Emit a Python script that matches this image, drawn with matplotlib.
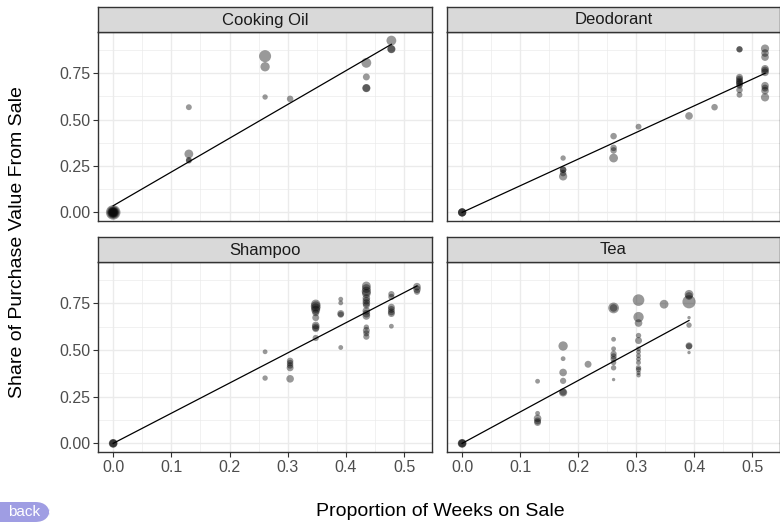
import numpy as np
import matplotlib
matplotlib.use("Agg")
import matplotlib.pyplot as plt
from matplotlib.ticker import MultipleLocator, FormatStrFormatter
from matplotlib.patches import FancyBboxPatch

plt.rcParams['font.family'] = ['Liberation Sans', 'DejaVu Sans']

products = ['Cooking Oil', 'Deodorant', 'Shampoo', 'Tea']

oil_x = [0, 0, 0, 0, 0, 0, 0.130, 0.130, 0.130, 0.130, 0.261, 0.261, 0.261, 0.304,
         0.435, 0.435, 0.435, 0.435, 0.478, 0.478, 0.478]
oil_y = [0, 0, 0, 0, 0, 0, 0.567, 0.315, 0.279, 0.283, 0.842, 0.785, 0.622, 0.612,
         0.806, 0.730, 0.670, 0.670, 0.926, 0.880, 0.880]
oil_s = [110, 80, 60, 50, 40, 30, 18, 40, 18, 18, 75, 45, 15, 22,
         50, 25, 35, 30, 50, 35, 30]

deo_x = [0, 0, 0, 0.174, 0.174, 0.174, 0.174, 0.174, 0.261, 0.261, 0.261, 0.261,
         0.304, 0.391, 0.435,
         0.478, 0.478, 0.478, 0.478, 0.478, 0.478, 0.478, 0.478, 0.478, 0.478,
         0.522, 0.522, 0.522, 0.522, 0.522, 0.522, 0.522, 0.522, 0.522, 0.522]
deo_y = [0, 0, 0, 0.293, 0.230, 0.230, 0.212, 0.194, 0.411, 0.348, 0.334, 0.293,
         0.462, 0.520, 0.567,
         0.879, 0.879, 0.728, 0.718, 0.708, 0.700, 0.692, 0.683, 0.660, 0.634,
         0.883, 0.859, 0.837, 0.774, 0.765, 0.755, 0.683, 0.670, 0.656, 0.620]
deo_s = [35, 35, 35, 15, 22, 22, 22, 35, 22, 22, 22, 40,
         18, 30, 22,
         20, 20, 25, 25, 25, 25, 25, 20, 22, 18,
         35, 30, 30, 30, 30, 30, 30, 25, 30, 35]

sha_x = [0, 0, 0, 0.261, 0.261, 0.304, 0.304, 0.304, 0.304, 0.304,
         0.348, 0.348, 0.348, 0.348, 0.348, 0.348, 0.348, 0.348, 0.348, 0.348,
         0.391, 0.391, 0.391, 0.391, 0.391,
         0.435, 0.435, 0.435, 0.435, 0.435, 0.435, 0.435, 0.435, 0.435, 0.435,
         0.435, 0.435, 0.435, 0.435, 0.435,
         0.478, 0.478, 0.478, 0.478, 0.478, 0.478, 0.478,
         0.522, 0.522, 0.522]
sha_y = [0, 0, 0, 0.491, 0.350, 0.442, 0.430, 0.418, 0.405, 0.346,
         0.746, 0.735, 0.725, 0.714, 0.700, 0.674, 0.632, 0.622, 0.615, 0.565,
         0.773, 0.753, 0.696, 0.690, 0.514,
         0.844, 0.830, 0.815, 0.804, 0.779, 0.765, 0.752, 0.741, 0.710, 0.695,
         0.683, 0.623, 0.605, 0.590, 0.572,
         0.800, 0.785, 0.730, 0.718, 0.705, 0.696, 0.628,
         0.840, 0.826, 0.813]
sha_s = [40, 35, 30, 12, 15, 22, 22, 22, 25, 30,
         45, 50, 45, 40, 25, 25, 30, 30, 25, 20,
         12, 12, 25, 20, 12,
         40, 40, 45, 40, 30, 30, 30, 25, 30, 30,
         30, 15, 25, 20, 20,
         20, 20, 25, 25, 25, 25, 12,
         30, 30, 20]

tea_x = [0, 0, 0, 0.130, 0.130, 0.130, 0.130, 0.130,
         0.174, 0.174, 0.174, 0.174, 0.174, 0.174, 0.217,
         0.261, 0.261, 0.261, 0.261, 0.261, 0.261, 0.261, 0.261, 0.261, 0.261,
         0.304, 0.304, 0.304, 0.304, 0.304, 0.304, 0.304, 0.304, 0.304, 0.304,
         0.304, 0.304, 0.304, 0.304,
         0.348, 0.391, 0.391, 0.391, 0.391, 0.391, 0.391, 0.391, 0.391]
tea_y = [0, 0, 0, 0.333, 0.161, 0.134, 0.120, 0.112,
         0.522, 0.454, 0.380, 0.335, 0.273, 0.275, 0.424,
         0.726, 0.726, 0.558, 0.507, 0.480, 0.466, 0.452, 0.433, 0.405, 0.342,
         0.768, 0.677, 0.645, 0.578, 0.551, 0.507, 0.490, 0.470, 0.452, 0.433,
         0.405, 0.395, 0.378, 0.365,
         0.746, 0.799, 0.790, 0.759, 0.674, 0.634, 0.523, 0.520, 0.487]
tea_s = [40, 35, 30, 12, 12, 30, 25, 25,
         45, 12, 30, 20, 35, 25, 25,
         60, 30, 12, 12, 20, 20, 20, 15, 15, 6,
         70, 55, 30, 15, 25, 12, 12, 12, 12, 12,
         15, 15, 10, 10,
         40, 40, 30, 90, 6, 15, 25, 20, 6]

# fitted line per product: intercept, slope
fit_intercept = [0.036, 0.0, 0.0, 0.0]
fit_slope = [1.82, 1.436, 1.617, 1.685]

xs = [oil_x, deo_x, sha_x, tea_x]
ys = [oil_y, deo_y, sha_y, tea_y]
ss = [oil_s, deo_s, sha_s, tea_s]

W, H = 780, 524
fig = plt.figure(figsize=(W / 100, H / 100), dpi=100)


def px_box(x0, y0, x1, y1):
    return [x0 / W, 1 - y1 / H, (x1 - x0) / W, (y1 - y0) / H]


cols = [(98, 432), (447, 780)]
rows = [(7, 32, 221), (237, 262, 452)]
grey20 = '#333333'

for i, name in enumerate(products):
    r, c = divmod(i, 2)
    x0, x1 = cols[c]
    st, pt, pb = rows[r]
    ax = fig.add_axes(px_box(x0, pt, x1, pb))
    sax = fig.add_axes(px_box(x0, st, x1, pt))

    ax.set_xlim(-0.0261, 0.5478)
    ax.set_ylim(-0.0463, 0.9723)
    ax.xaxis.set_major_locator(MultipleLocator(0.1))
    ax.xaxis.set_minor_locator(MultipleLocator(0.05))
    ax.yaxis.set_major_locator(MultipleLocator(0.25))
    ax.yaxis.set_minor_locator(MultipleLocator(0.125))
    ax.grid(which='major', color='#ebebeb', lw=1.0)
    ax.grid(which='minor', color='#ebebeb', lw=0.5)
    ax.set_axisbelow(True)
    for sp in ax.spines.values():
        sp.set_color(grey20)
        sp.set_linewidth(1.0)
    ax.tick_params(which='minor', length=0)
    ax.tick_params(which='major', length=3.5, width=0.8, color=grey20,
                   labelsize=11.5, labelcolor='#4d4d4d', pad=2)
    ax.yaxis.set_major_formatter(FormatStrFormatter('%.2f'))
    ax.xaxis.set_major_formatter(FormatStrFormatter('%.1f'))
    if r == 0:
        ax.tick_params(axis='x', length=0, labelbottom=False)
    if c == 1:
        ax.tick_params(axis='y', length=0, labelleft=False)

    ax.scatter(xs[i], ys[i], s=ss[i], color='black', alpha=0.4, linewidths=0, zorder=3)
    xmax = max(xs[i])
    lx = np.array([0.0, xmax])
    ax.plot(lx, fit_intercept[i] + fit_slope[i] * lx, color='black', lw=0.9, zorder=4)

    sax.set_facecolor('#d9d9d9')
    sax.set_xticks([])
    sax.set_yticks([])
    for sp in sax.spines.values():
        sp.set_color(grey20)
        sp.set_linewidth(1.0)
    sax.text(0.5, 0.48, name, ha='center', va='center', fontsize=12,
             color='#1a1a1a', transform=sax.transAxes)

fig.text(18 / W, 1 - 242 / H, 'Share of Purchase Value From Sale', rotation=90,
         ha='center', va='center', fontsize=14, color='black')
fig.text(440 / W, 1 - 512 / H, 'Proportion of Weeks on Sale',
         ha='center', va='center', fontsize=14, color='black')

# "back" button overlay at bottom-left
btn = FancyBboxPatch((-20 / W, 1 - 522 / H), 70 / W, 20 / H,
                     boxstyle='round,pad=0,rounding_size=0.019',
                     transform=fig.transFigure, facecolor='#9f9de3',
                     edgecolor='none', mutation_aspect=W / H)
fig.patches.append(btn)
fig.text(8 / W, 1 - 512 / H, 'back', ha='left', va='center', fontsize=11,
         color='white')

fig.savefig('out.png', dpi=100)
